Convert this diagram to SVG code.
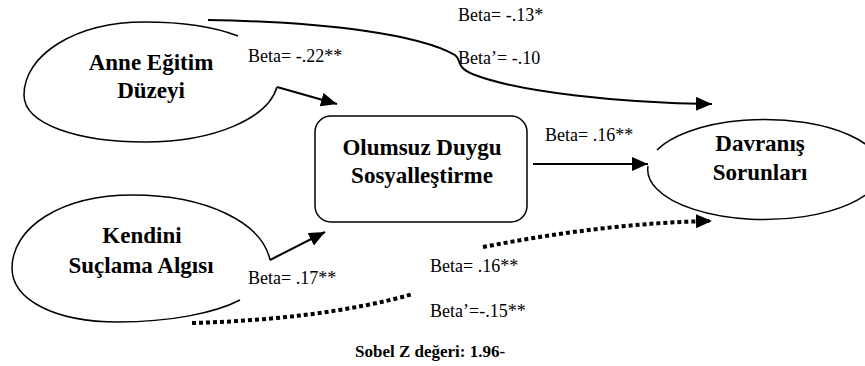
<svg xmlns="http://www.w3.org/2000/svg" width="865" height="366" viewBox="0 0 865 366">
<style>
.node{fill:none;stroke:#000;stroke-width:1.5}
.t{font-family:"Liberation Serif","Times New Roman",serif;font-weight:bold;font-size:23px;fill:#000;text-anchor:middle}
.lb{font-family:"Liberation Serif","Times New Roman",serif;font-size:18px;fill:#000}
.c{fill:none;stroke:#000;stroke-width:2}
.d{fill:none;stroke:#000;stroke-width:4;stroke-dasharray:4 3}
</style>
<defs>
<marker id="ah" markerUnits="userSpaceOnUse" markerWidth="18" markerHeight="14" refX="16" refY="7" orient="auto">
<path d="M0,0 L16,7 L0,14 z" fill="#000"/>
</marker>
</defs>
<rect width="865" height="366" fill="#fff"/>
<g id="anne">
<path class="node" d="M238,36 C212,26 180,22 145,22 C75,22 24,55 24,95 C24,125 80,142 145,142 C215,142 268,118 277,87"/>
<text class="t" x="151" y="70">Anne Eğitim</text>
<text class="t" x="151" y="98">Düzeyi</text>
</g>
<g id="kendini">
<path class="node" d="M270,260 C262,222 205,195 133,195 C60,195 12,228 12,268 C12,300 55,322 118,322 C170,322 215,313 240,300"/>
<text class="t" x="142" y="243">Kendini</text>
<text class="t" x="141" y="273">Suçlama Algısı</text>
</g>
<g id="olumsuz">
<rect class="node" x="315" y="116" width="212" height="106" rx="16"/>
<text class="t" x="422" y="155">Olumsuz Duygu</text>
<text class="t" x="422" y="183">Sosyalleştirme</text>
</g>
<g id="davranis">
<path class="node" d="M657,150 A117,50 0 1 1 648,166"/>
<text class="t" x="760" y="151">Davranış</text>
<text class="t" x="760" y="180">Sorunları</text>
</g>
<g id="connectors">
<path class="c" d="M277,87 L337,104" marker-end="url(#ah)"/>
<path class="c" d="M270,260 L325,232" marker-end="url(#ah)"/>
<path class="c" d="M533,164 L648,164" marker-end="url(#ah)"/>
<path class="c" stroke-width="2.5" d="M208,20 C330,22 420,35 455,55 C462,60 455,68 475,75 C520,92 620,103 712,104" marker-end="url(#ah)"/>
<path class="d" d="M192,323 C270,321 350,312 413,294"/>
<path class="d" d="M483,247 C560,232 640,222 712,221" marker-end="url(#ah)"/>
</g>
<g id="labels">
<text class="lb" x="248" y="62">Beta= -.22**</text>
<text class="lb" x="458" y="21">Beta= -.13*</text>
<text class="lb" x="458" y="64">Beta’= -.10</text>
<text class="lb" x="545" y="141">Beta= .16**</text>
<text class="lb" x="248" y="284">Beta= .17**</text>
<text class="lb" x="430" y="272">Beta= .16**</text>
<text class="lb" x="430" y="317">Beta’=-.15**</text>
<text class="t" x="355" y="357" style="text-anchor:start;font-size:17px">Sobel Z değeri: 1.96-</text>
</g>
</svg>
